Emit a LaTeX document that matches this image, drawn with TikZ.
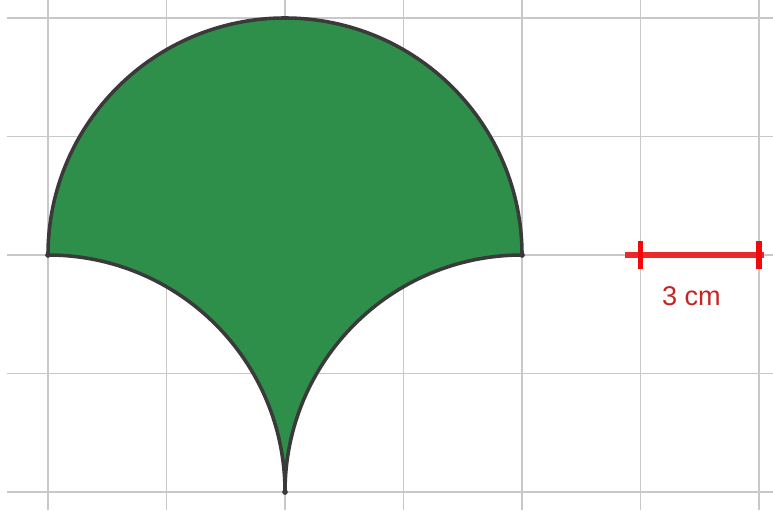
\documentclass[tikz,border=0pt]{standalone}
\usepackage{fontspec}
\setsansfont{Liberation Sans}
\usetikzlibrary{calc}
\definecolor{cgreen}{HTML}{2E8F4A}
\definecolor{cgrid}{HTML}{C8C8C8}
\definecolor{cedge}{HTML}{3A3A3A}
\definecolor{cred}{HTML}{E82A2A}
\definecolor{ctick}{HTML}{F00A0A}
\tikzset{
  every picture/.style={font=\sffamily},
  gridline/.style={draw=cgrid, line width=0.45pt},
  leaf/.style={fill=cgreen, draw=cedge, line width=0.85pt, line join=round},
  scalebar/.style={draw=cred, line width=1.25pt},
  scaletick/.style={draw=ctick, line width=1.35pt},
  note/.style={text=cred!85!black, font=\sffamily\fontsize{6.5}{7}\selectfont},
}

\begin{document}
\begin{tikzpicture}[x=1cm, y=1cm]
  \useasboundingbox (-0.405,-0.152) rectangle (6.118,4.152);
  % grid, 1 square = 1.5 cm
  \foreach \x in {0,...,6} \draw[gridline] (\x,-0.152) -- (\x,4.152);
  \foreach \y in {0,...,4} \draw[gridline] (-0.346,\y) -- (6.118,\y);
  % the figure
  \coordinate (west) at (0,2); \coordinate (east) at (4,2); \coordinate (tip) at (2,0);
  \filldraw[leaf] (west) arc[start angle=180, end angle=0, radius=2]
    arc[start angle=90, end angle=180, radius=2]
    arc[start angle=0, end angle=90, radius=2] -- cycle;
  \foreach \p in {west, east, tip} \fill[cedge] (\p) circle (0.024);
  % scale
  \coordinate (s0) at (5,2); \coordinate (s1) at (6,2);
  \draw[scalebar] ($(s0)+(-0.13,0)$) -- ($(s1)+(0.04,0)$);
  \foreach \p in {s0, s1} \draw[scaletick] ($(\p)+(0,0.12)$) -- ($(\p)+(0,-0.12)$);
  \node[note] (scalelabel) at (5.43,1.65) {3 cm};
\end{tikzpicture}
\end{document}
